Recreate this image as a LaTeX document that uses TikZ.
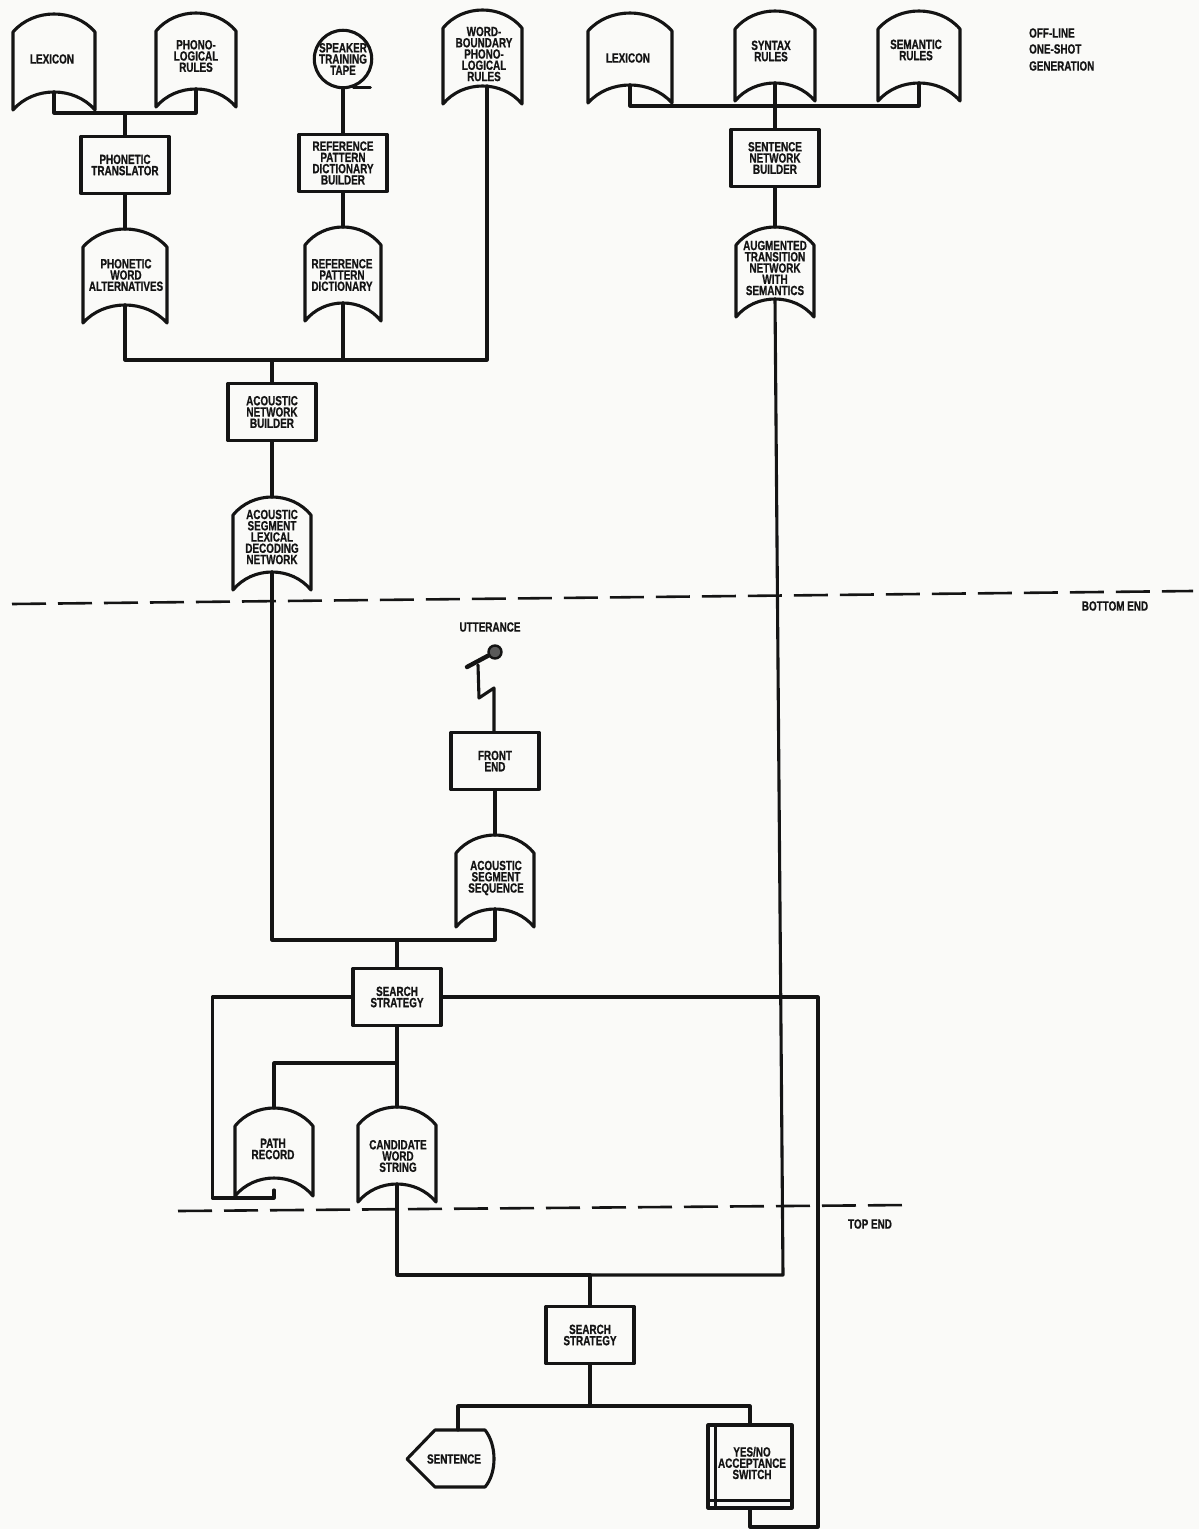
\documentclass[tikz,border=0pt]{standalone}
\usepackage{xcolor}
\usepackage{fontspec}
\newfontfamily\lblfont[FakeStretch=0.74,FakeBold=0.8]{Liberation Sans}
\definecolor{ink}{HTML}{141414}
\definecolor{paper}{HTML}{FAFAF8}
\tikzset{
    ln/.style={draw=ink, line width=1.55mm, line join=round, line cap=round},
    lbl/.style={text=ink, align=center, inner sep=0pt, font={\lblfont\bfseries\fontsize{19}{16}\selectfont}},
    proc/.style={lbl, ln, minimum width=44mm, minimum height=28.5mm},
    cut/.style={draw=ink, line width=1.3mm}
}
% disc file: arched top, hollowed bottom
\newcommand{\store}[7]{
    \node[lbl] (#1) at (#6) {#7};
    \coordinate (#1-t) at ({(#2+#3)/2},#4);
    \coordinate (#1-b) at ({(#2+#3)/2},{#5-18});
    \draw[ln] (#2,{#4+18}) .. controls ({#2+0.25*(#3-#2)},{#4-6}) and ({#3-0.25*(#3-#2)},{#4-6}) .. (#3,{#4+18})
        -- (#3,#5) .. controls ({#3-0.25*(#3-#2)},{#5-24}) and ({#2+0.25*(#3-#2)},{#5-24}) .. (#2,#5) -- cycle;
}
\begin{document}
\begin{tikzpicture}[x=0.5mm,y=-0.5mm]
    \fill[paper] (0,0) rectangle (1199,1529);
    \useasboundingbox (0,0) rectangle (1199,1529);

    % off-line generation
    \store{lexa}{13}{95}{14}{110}{52,59}{LEXICON}
    \store{phono}{156}{236}{13}{107}{196,56}{PHONO-\\LOGICAL\\RULES}
    \node[proc] (transl) at (125,165) {PHONETIC\\TRANSLATOR};
    \store{words}{83}{167}{229}{323}{126,275}{PHONETIC\\WORD\\ALTERNATIVES}
    \node[lbl, ln, circle, minimum size=28mm] (tape) at (343,59) {SPEAKER\\TRAINING\\TAPE};
    \node[proc] (dictb) at (343,163) {REFERENCE\\PATTERN\\DICTIONARY\\BUILDER};
    \store{dict}{305}{381}{227}{321}{342,275}{REFERENCE\\PATTERN\\DICTIONARY}
    \store{wordb}{443}{522}{10}{104}{484,54}{WORD-\\BOUNDARY\\PHONO-\\LOGICAL\\RULES}
    \node[proc] (acnet) at (272,412) {ACOUSTIC\\NETWORK\\BUILDER};
    \store{acseg}{233}{311}{497}{590}{272,537}{ACOUSTIC\\SEGMENT\\LEXICAL\\DECODING\\NETWORK}

    \store{lexb}{588}{672}{13}{103}{628,58}{LEXICON}
    \store{syntax}{735}{815}{11}{101}{771,51}{SYNTAX\\RULES}
    \store{seman}{878}{960}{11}{101}{916,50}{SEMANTIC\\RULES}
    \node[proc] (sentb) at (775,158) {SENTENCE\\NETWORK\\BUILDER};
    \store{atn}{736}{814}{227}{317}{775,268}{AUGMENTED\\TRANSITION\\NETWORK\\WITH\\SEMANTICS}

    \node[lbl, align=left, anchor=west] (offline) at (1029,33) {OFF-LINE};
    \node[lbl, align=left, anchor=west] (oneshot) at (1029,49) {ONE-SHOT};
    \node[lbl, align=left, anchor=west] (generate) at (1029,66) {GENERATION};

    % on-line part
    \node[lbl] (utter) at (490,627) {UTTERANCE};
    \node[draw=ink, fill=ink!70, line width=1.2mm, circle, minimum size=6.5mm, inner sep=0pt] (mic) at (495,652) {};
    \node[proc] (front) at (495,761) {FRONT\\END};
    \store{acseq}{456}{534}{835}{927}{496,878}{ACOUSTIC\\SEGMENT\\SEQUENCE}
    \node[proc] (searcha) at (397,997) {SEARCH\\STRATEGY};
    \store{path}{235}{313}{1108}{1196}{273,1149}{PATH\\RECORD}
    \store{cand}{358}{436}{1107}{1202}{398,1156}{CANDIDATE\\WORD\\STRING}
    \node[proc] (searchb) at (590,1335) {SEARCH\\STRATEGY};
    \node[lbl] (sentence) at (454,1459) {SENTENCE};
    \node[proc, minimum width=42mm, minimum height=41.5mm] (switch) at (750,1466.5) {};
    \node[lbl] (switchtxt) at (752,1463) {YES/NO\\ACCEPTANCE\\SWITCH};
    \node[lbl] (botend) at (1115,606) {BOTTOM END};
    \node[lbl] (topend) at (870,1224) {TOP END};

    \draw[ln] (407,1459) -- (435,1430) -- (485,1430) .. controls (497,1445) and (497,1473) .. (485,1487) -- (435,1487) -- cycle;
    \coordinate (sentence-t) at (458,1430);
    \draw[ln, line cap=butt] ([xshift=4.5mm]switch.north west) -- ([xshift=4.5mm]switch.south west);
    \draw[ln, line cap=butt] ([yshift=4.5mm]switch.south west) -- ([yshift=4.5mm]switch.south east);

    % junctions
    \coordinate (busa) at (125,113);
    \coordinate (busb) at (272,360);
    \coordinate (busbr) at (487,360);
    \coordinate (busc) at (775,106);
    \coordinate (busd) at (397,940);
    \coordinate (buse) at (397,1063);
    \coordinate (busf) at (590,1275);
    \coordinate (busfr) at (783,1275);
    \coordinate (busg) at (590,1406);
    \coordinate (pathend) at (274,1190);
    \coordinate (wirea) at (479,698);
    \coordinate (wireb) at (494,688);
    \coordinate (micend) at (478,665);

    \draw[ln] (lexa-b) |- (busa) -| (phono-b);
    \draw[ln] (busa) -- (transl.north);
    \draw[ln] (transl.south) -- (words-t);
    \draw[ln] (tape.south) -- (dictb.north);
    \draw[ln] (tape.-70) -- ++(17,0);
    \draw[ln] (dictb.south) -- (dict-t);
    \draw[ln] (words-b) |- (busbr) -- (busbr |- wordb-b);
    \draw[ln] (dict-b) -- (dict-b |- busb);
    \draw[ln] (busb) -- (acnet.north);
    \draw[ln] (acnet.south) -- (acseg-t);
    \draw[ln] (lexb-b) |- (busc) -| (seman-b);
    \draw[ln] (syntax-b) -- (sentb.north);
    \draw[ln] (sentb.south) -- (atn-t);
    \draw[ln] (acseg-b) |- (busd);
    \draw[ln] (acseq-b) |- (busd);
    \draw[ln] (busd) -- (searcha.north);
    \draw[ln] (searcha.west) -| ++(-139,201) -| (pathend);
    \draw[ln] (searcha.south) -- (cand-t);
    \draw[ln] (buse) -| (path-t);
    \draw[ln] (searcha.east) -| (818,1527) -| (switch.south);
    \draw[ln] (cand-b) |- (busf);
    \draw[ln] (atn-b) -- (busfr) -- (busf);
    \draw[ln] (busf) -- (searchb.north);
    \draw[ln] (searchb.south) -- (busg);
    \draw[ln] (busg) -| (sentence-t);
    \draw[ln] (busg) -| (switch.north);
    \draw[ln] (front.south) -- (front.south |- acseq-t);
    \draw[ln] (micend) -- (wirea) -- (wireb) -- (wireb |- front.north);
    \draw[ln, line width=2.2mm] (467,667) -- (mic);

    % dividing lines
    \draw[cut, dash pattern=on 17mm off 6mm] (12,604) -- (1193,591);
    \draw[cut, dash pattern=on 17mm off 6mm] (178,1211) -- (908,1205);
\end{tikzpicture}
\end{document}
